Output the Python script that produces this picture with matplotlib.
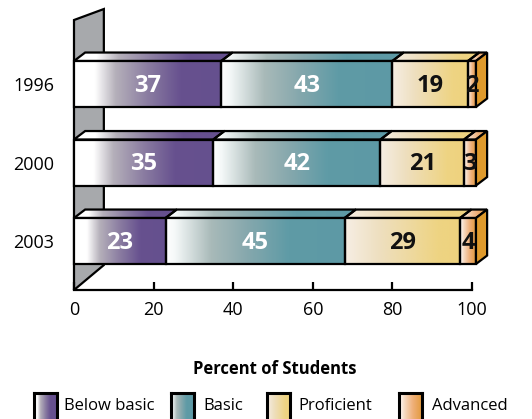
import numpy as np
import matplotlib
matplotlib.use('Agg')
import matplotlib.pyplot as plt
from matplotlib.colors import LinearSegmentedColormap
from matplotlib.patches import Polygon

plt.rcParams['font.family'] = ['Open Sans', 'DejaVu Sans']

years = ['1996', '2000', '2003']
levels = ['Below basic', 'Basic', 'Proficient', 'Advanced']
below_basic = [37, 35, 23]
basic = [43, 42, 45]
proficient = [19, 21, 29]
advanced = [2, 3, 4]
tick_values = [0, 20, 40, 60, 80, 100]

# colour stops across one segment, left edge -> right edge
stops = [
    [(0, '#ffffff'), (0.14, '#ffffff'), (0.28, '#b5b0ba'), (0.5, '#8a7ca1'), (0.72, '#67518f'), (1, '#65508e')],
    [(0, '#ffffff'), (0.05, '#f4f8f8'), (0.25, '#a9bab9'), (0.45, '#86a8ad'), (0.68, '#5f9ba6'), (1, '#5d99a5')],
    [(0, '#f6eee4'), (0.3, '#eedfbf'), (0.8, '#eed483'), (1, '#eed27e')],
    [(0, '#ffffff'), (0.25, '#f6d9c0'), (0.6, '#efb07a'), (1, '#e39a3c')],
]
cmaps = [LinearSegmentedColormap.from_list(n, s) for n, s in zip(levels, stops)]
text_colors = ['white', 'white', '#111111', '#111111']
side_color = '#df9a2c'
wall_color = '#a7a9ac'

bar_h = 0.586   # bar thickness in category units
dx, dy = 2.8, 0.108   # depth offset of top/side faces
lw = 1.6

fig = plt.figure(figsize=(5.32, 4.19), dpi=100)
ax = fig.add_axes([74 / 532, 129 / 419, 398 / 532, 290 / 419])


def shaded(verts, cmap, x0, x1, z):
    ys = [v[1] for v in verts]
    im = ax.imshow(np.linspace(0, 1, 256)[None, :], cmap=cmap, aspect='auto',
                   extent=(x0, x1, max(ys), min(ys)), interpolation='bilinear', zorder=z)
    clip = Polygon(verts, closed=True, transform=ax.transData)
    im.set_clip_path(clip)
    im.set_clip_box(fig.bbox)
    ax.add_patch(Polygon(verts, closed=True, facecolor='none', edgecolor='black',
                         lw=lw, joinstyle='miter', zorder=z + 0.5, clip_on=False))


# back wall at x = 0
wall = Polygon([(0, -0.815), (7.5, -0.955), (7.5, 2.306), (0, 2.624)], closed=True,
               facecolor=wall_color, edgecolor='black', lw=lw, zorder=1, clip_on=False)
ax.add_patch(wall)

data = np.array([below_basic, basic, proficient, advanced]).T
for i, row in enumerate(data):
    top, bot = i - bar_h / 2, i + bar_h / 2
    left = 0
    z = 10 + i * 10
    for j, val in enumerate(row):
        right = left + val
        # top face
        shaded([(left, top), (right, top), (right + dx, top - dy), (left + dx, top - dy)],
               cmaps[j], left, right + dx, z)
        # front face
        shaded([(left, top), (right, top), (right, bot), (left, bot)], cmaps[j], left, right, z + 1)
        ax.text((left + right) / 2, i + 0.02, str(val), ha='center', va='center',
                fontsize=17, fontweight='bold', color=text_colors[j], zorder=z + 3)
        left = right
    ax.add_patch(Polygon([(left, top), (left + dx, top - dy), (left + dx, bot - dy), (left, bot)],
                         closed=True, facecolor=side_color, edgecolor='black', lw=lw,
                         joinstyle='miter', zorder=z + 2, clip_on=False))

ax.set_xlim(0, 100)
ax.set_ylim(2.624, -1.07)
ax.set_xticks(tick_values)
ax.set_yticks(range(len(years)), years)
for s in ['top', 'right', 'left']:
    ax.spines[s].set_visible(False)
ax.spines['bottom'].set_linewidth(lw)
ax.spines['bottom'].set_zorder(0.5)
ax.tick_params(axis='x', direction='in', length=6, width=lw, labelsize=13, pad=8)
ax.tick_params(axis='y', length=0, labelsize=13, pad=14)
ax.patch.set_visible(False)

fig.text(0.516, 0.119, 'Percent of Students', ha='center', va='center',
         fontsize=12, fontweight='bold')

# legend swatches
sw_x = [34, 171, 267, 399]
tx_x = [64, 203, 298, 432]
for j, name in enumerate(levels):
    sax = fig.add_axes([sw_x[j] / 532, -6 / 419, 23 / 532, 32 / 419])
    sax.imshow(np.linspace(0.25, 1, 128)[None, :], cmap=cmaps[j], aspect='auto')
    sax.set_xticks([])
    sax.set_yticks([])
    for s in sax.spines.values():
        s.set_linewidth(2.2)
    fig.text(tx_x[j] / 532, 1 - 406 / 419, name, ha='left', va='center', fontsize=12)

fig.savefig('out.png', dpi=100)
